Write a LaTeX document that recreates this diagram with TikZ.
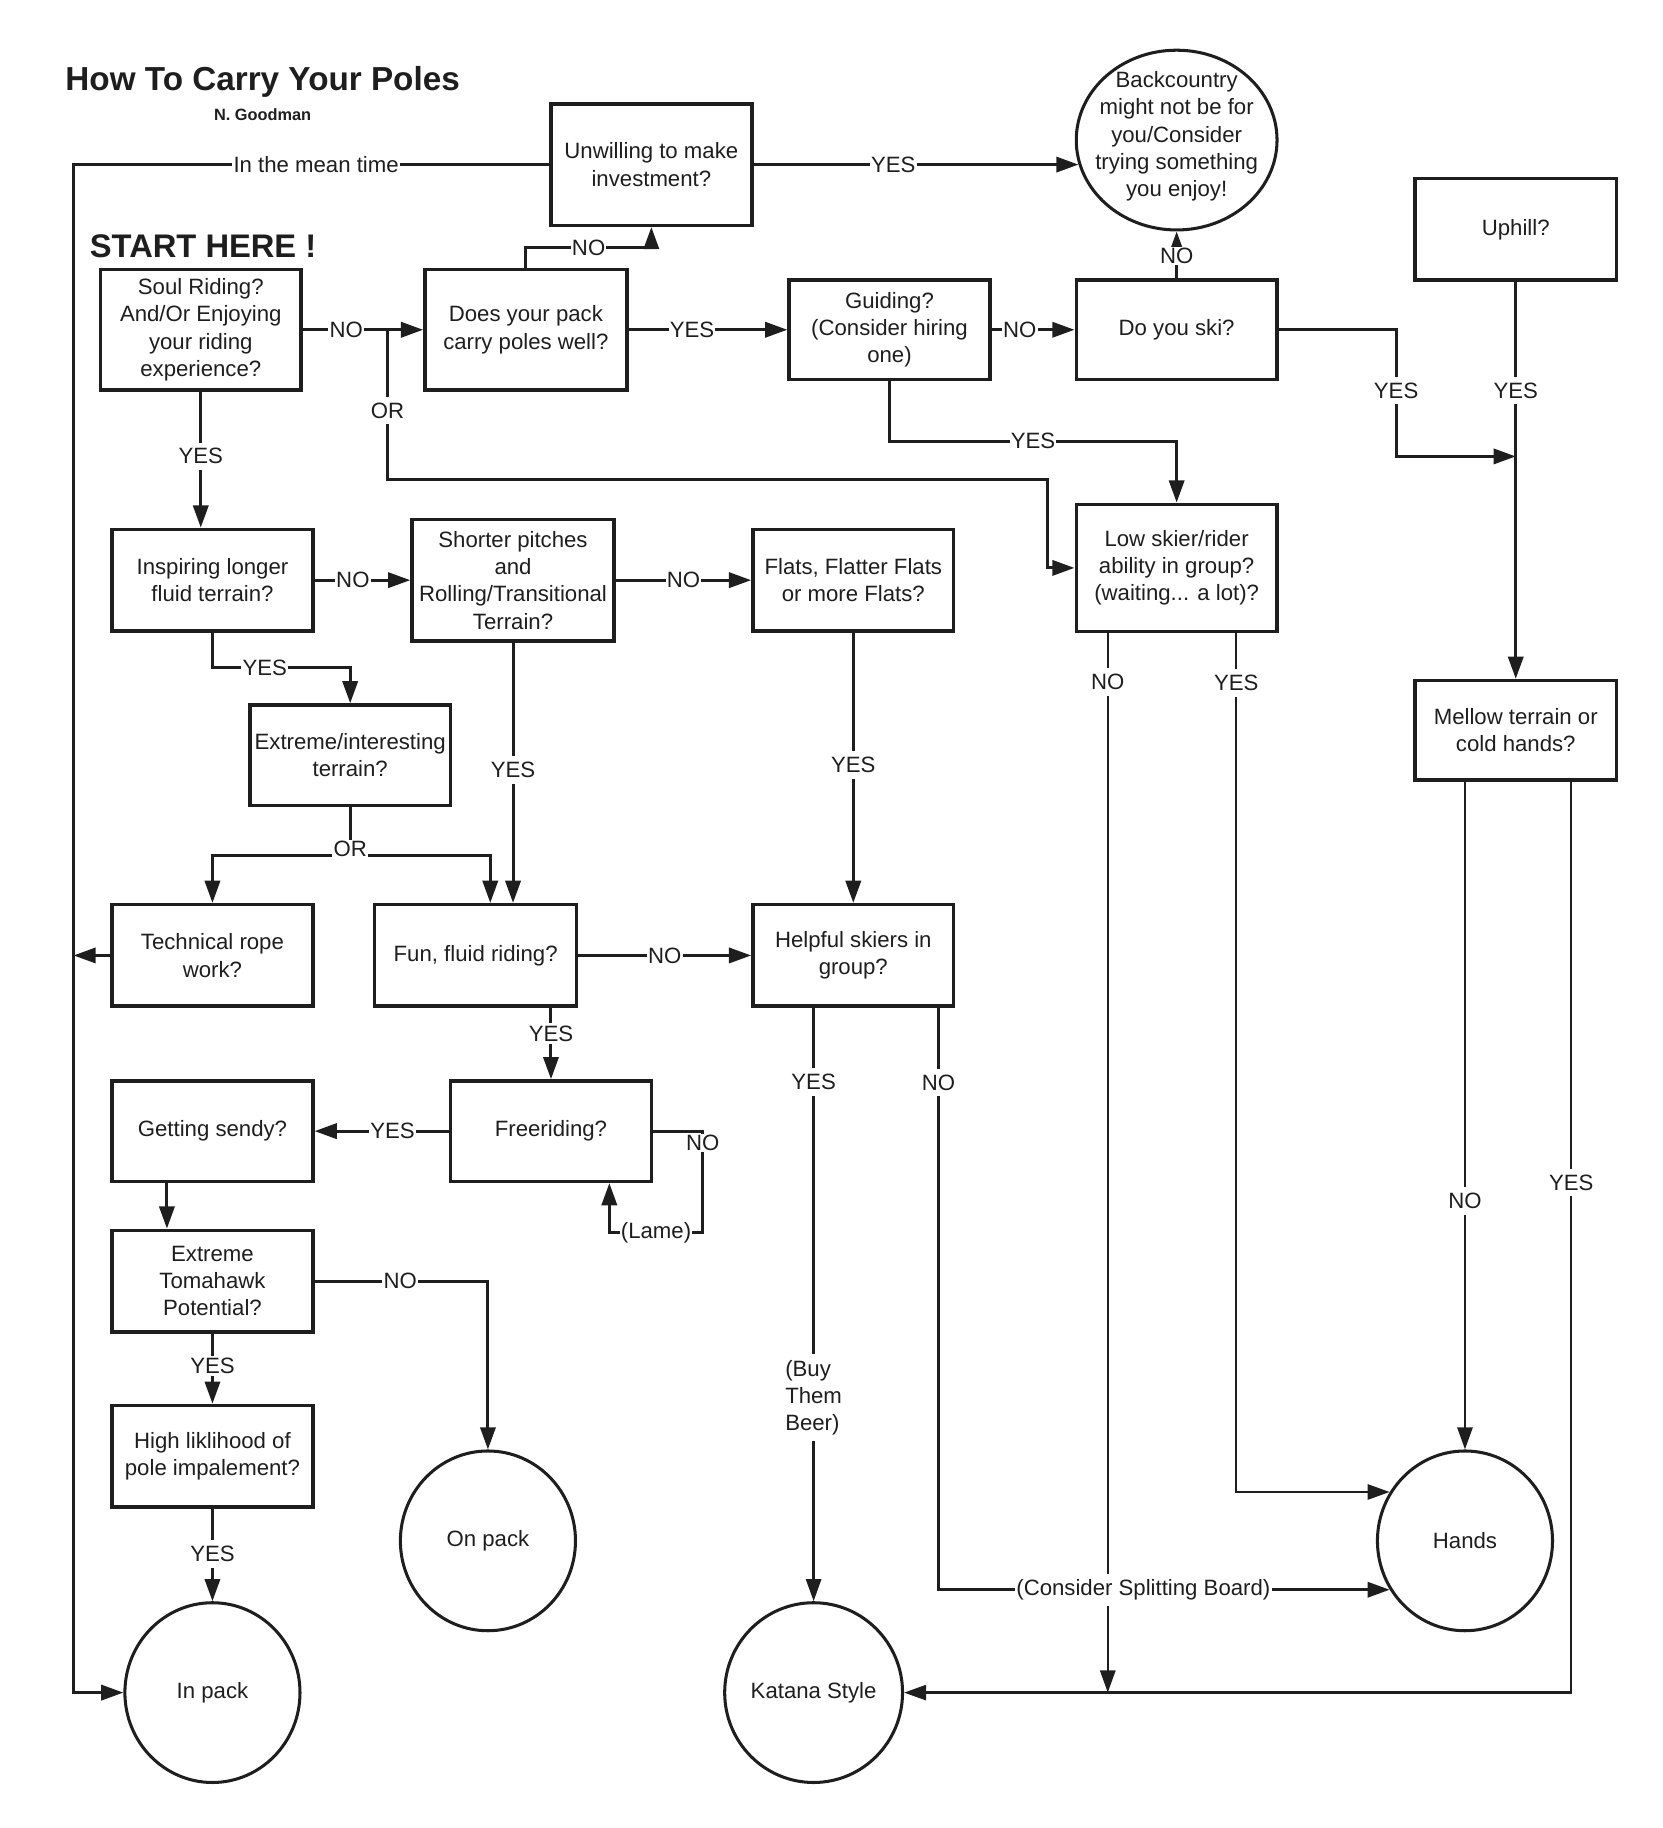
\documentclass[tikz,border=0pt]{standalone}
\usepackage{fontspec}
\setmainfont{Liberation Sans}
\usetikzlibrary{arrows.meta,shapes.geometric}
\definecolor{ink}{HTML}{1E1E1E}
\begin{document}
\begin{tikzpicture}[x=1pt,y=-1pt,
  every node/.style={text=ink},
  qbox/.style={draw=ink, line width=3pt, rectangle, align=center, inner sep=2pt, font=\fontsize{19}{23.4}\selectfont},
  endc/.style={draw=ink, line width=2.6pt, ellipse, minimum width=150pt, minimum height=154pt, inner sep=0pt, align=center, font=\fontsize{19}{23.4}\selectfont},
  txt/.style={inner sep=0pt, align=center, font=\fontsize{19}{23.4}\selectfont},
  conn/.style={draw=ink, line width=2.6pt},
  arr/.style={conn, -{Triangle[length=19pt,width=13pt]}},
  thin/.style={line width=2.1pt},
  lbl/.style={fill=white, inner xsep=1pt, inner ysep=5pt, font=\fontsize{19}{23.4}\selectfont, align=center},
]
\useasboundingbox (0,0) rectangle (1424,1566);

% headings
\node[font=\bfseries\fontsize{28.5}{34}\selectfont] (title) at (225,70) {How To Carry Your Poles};
\node[font=\bfseries\fontsize{14}{16}\selectfont] (author) at (225,98) {N. Goodman};
\node[font=\bfseries\fontsize{28}{32}\selectfont] (start) at (174,211) {START HERE !};

% question boxes
\node[qbox, minimum width=172pt, minimum height=104pt] (unwilling) at (558,141) {Unwilling to make\\investment?};
\node[endc, minimum width=172pt, minimum height=154pt] (back) at (1008,120) {};
\node[txt] (backtxt) at (1008,117) {Backcountry\\might not be for\\you/Consider\\trying something\\you enjoy!};
\node[qbox, minimum width=173pt, minimum height=87pt] (uphill) at (1298.5,196.5) {Uphill?};
\node[qbox, minimum width=172pt, minimum height=103pt] (soul) at (172,282.5) {Soul Riding?\\And/Or Enjoying\\your riding\\experience?};
\node[qbox, minimum width=173pt, minimum height=103pt] (pack) at (450.5,282.5) {Does your pack\\carry poles well?};
\node[qbox, minimum width=172pt, minimum height=85pt] (guiding) at (762,282.5) {Guiding?\\(Consider hiring\\one)};
\node[qbox, minimum width=172pt, minimum height=85pt] (ski) at (1008,282.5) {Do you ski?};
\node[qbox, minimum width=172pt, minimum height=109pt] (low) at (1008,486.5) {Low skier/rider\\ability in group?\\(waiting... a lot)?};
\node[qbox, minimum width=172pt, minimum height=87pt] (inspiring) at (182,497) {Inspiring longer\\fluid terrain?};
\node[qbox, minimum width=173pt, minimum height=104pt] (shorter) at (439.5,497) {Shorter pitches\\and\\Rolling/Transitional\\Terrain?};
\node[qbox, minimum width=172pt, minimum height=87pt] (flats) at (731,497) {Flats, Flatter Flats\\or more Flats?};
\node[qbox, minimum width=172pt, minimum height=86pt] (extreme) at (300,647) {Extreme/interesting\\terrain?};
\node[qbox, minimum width=173pt, minimum height=85pt] (mellow) at (1298.5,625.5) {Mellow terrain or\\cold hands?};
\node[qbox, minimum width=172pt, minimum height=87pt] (technical) at (182,818.5) {Technical rope\\work?};
\node[qbox, minimum width=173pt, minimum height=87pt] (fun) at (407.5,818.5) {Fun, fluid riding?};
\node[qbox, minimum width=172pt, minimum height=87pt] (helpful) at (731,818.5) {Helpful skiers in\\group?};
\node[qbox, minimum width=172pt, minimum height=86pt] (sendy) at (182,969) {Getting sendy?};
\node[qbox, minimum width=172pt, minimum height=86pt] (freeriding) at (472,969) {Freeriding?};
\node[qbox, minimum width=172pt, minimum height=87pt] (tomahawk) at (182,1097.5) {Extreme\\Tomahawk\\Potential?};
\node[qbox, minimum width=172pt, minimum height=87pt] (high) at (182,1247.5) {High liklihood of\\pole impalement?};

% outcomes
\node[endc] (onpack) at (418,1320) {On pack};
\node[endc] (inpack) at (182,1450) {In pack};
\node[endc] (katana) at (697,1450) {Katana Style};
\node[endc] (hands) at (1255,1320) {Hands};

% connectors
\coordinate (lx) at (63,141);
\draw[arr] (unwilling.west) -- node[lbl,pos=0.49]{In the mean time} (lx) |- (inpack.west);
\draw[arr] (technical.west) -- (technical.west -| lx);
\draw[arr] (unwilling.east) -- node[lbl,pos=0.43]{YES} (unwilling.east -| back.194);

\coordinate (pnU) at (558,212);
\draw[arr] (pack.north) |- node[lbl,pos=0.75]{NO} (pnU) -- (unwilling.south);

\draw[arr] (soul.east) -- node[lbl,pos=0.36]{NO} (pack.west);
\coordinate (orx) at (332,282.5);
\coordinate (orA) at (332,411);
\coordinate (orB) at (897,411);
\draw[arr] (orx) -- node[lbl,pos=0.54]{OR} (orA) -- (orB) |- (low.west);

\draw[arr] (pack.east) -- node[lbl,pos=0.40]{YES} (guiding.west);
\draw[arr] (guiding.east) -- node[lbl,pos=0.34]{NO} (ski.west);
\draw[arr] (ski.north) -- node[lbl,pos=0.47,inner ysep=1pt]{NO} (back.south);

\coordinate (skiD) at (1196,391);
\coordinate (uj) at (1298.5,391);
\draw[arr] (ski.east) -| node[lbl,pos=0.74]{YES} (skiD) -- (uj);
\draw[arr] (uphill.south) -- node[lbl,pos=0.274]{YES} (mellow.north);

\coordinate (gl) at (1008,378);
\draw[arr] (guiding.south) |- node[lbl,pos=0.75]{YES} (gl) -- (low.north);

\draw[arr] (soul.south) -- node[lbl,pos=0.475]{YES} (soul.south |- inspiring.north);
\draw[arr] (inspiring.east) -- node[lbl,pos=0.4]{NO} (shorter.west);
\draw[arr] (shorter.east) -- node[lbl,pos=0.5]{NO} (flats.west);

\coordinate (ie) at (300,572);
\draw[arr] (inspiring.south) |- node[lbl,pos=0.69]{YES} (ie) -- (extreme.north);

\coordinate (orj) at (300,733);
\draw[conn] (extreme.south) -- (orj);
\draw[arr] (orj) -| (technical.north);
\draw[arr] (orj) -| ([xshift=12.5pt]fun.north);
\node[lbl, inner ysep=1pt] (orlbl) at (300,727) {OR};

\draw[arr] (shorter.south) -- node[lbl,pos=0.49]{YES} (shorter.south |- fun.north);
\draw[arr] (flats.south) -- node[lbl,pos=0.49]{YES} (helpful.north);
\draw[arr] (fun.east) -- node[lbl,pos=0.5]{NO} (helpful.west);
\draw[arr] (fun.south -| freeriding.north) -- node[lbl,pos=0.36,inner ysep=2pt]{YES} (freeriding.north);
\draw[arr] (freeriding.west) -- node[lbl,pos=0.42]{YES} (sendy.east);

\coordinate (lameA) at (602,1056);
\draw[arr] (freeriding.east) -| node[lbl,pos=0.56,inner ysep=1pt]{NO} (lameA) -| node[lbl,pos=0.25]{(Lame)} ([xshift=50pt]freeriding.south);

\draw[arr] ([xshift=-39pt]sendy.south) -- ([xshift=-39pt]tomahawk.north);
\draw[arr] (tomahawk.east) -| node[lbl,pos=0.247]{NO} (onpack.north);
\draw[arr] (tomahawk.south) -- node[lbl,pos=0.46,inner ysep=2pt]{YES} (high.north);
\draw[arr] (high.south) -- node[lbl,pos=0.49]{YES} (inpack.north);

\draw[arr,thin] ([xshift=-59pt]low.south) -- node[lbl,pos=0.046]{NO} ([xshift=-59pt]low.south |- katana.east);
\draw[arr,thin] ([xshift=51pt]low.south) |- node[lbl,pos=0.029]{YES} (hands.147);
\draw[arr,thin] ([xshift=-43.5pt]mellow.south) -- node[lbl,pos=0.628]{NO} (hands.north);
\draw[arr,thin] ([xshift=47.5pt]mellow.south) |- node[lbl,pos=0.22]{YES} (katana.east);
\draw[arr,thin] ([xshift=-34pt]helpful.south) -- node[lbl,pos=0.125]{YES} node[lbl,pos=0.657,align=left]{(Buy\\Them\\Beer)} (katana.north);
\draw[arr] ([xshift=73pt]helpful.south) |- node[lbl,pos=0.064]{NO} node[lbl,pos=0.727]{(Consider Splitting Board)} (hands.213);

\end{tikzpicture}
\end{document}
